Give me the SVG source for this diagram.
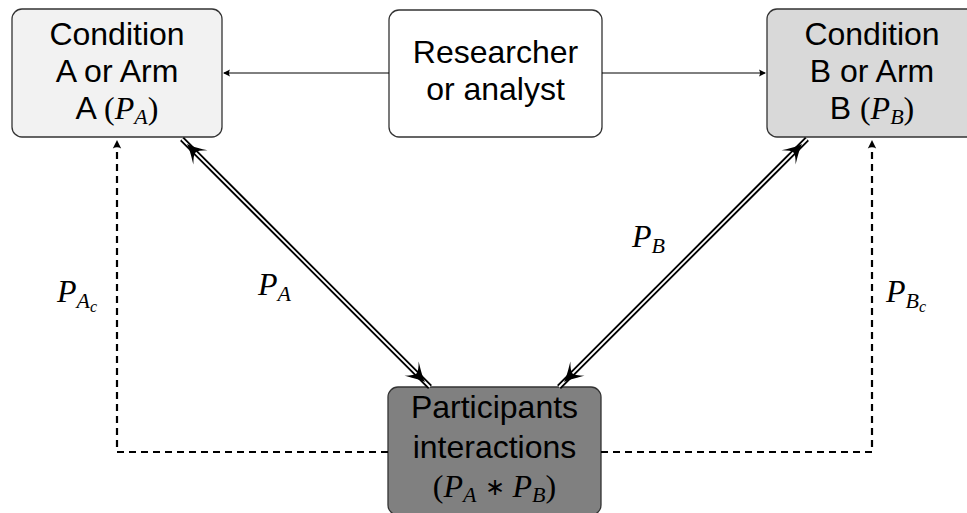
<svg xmlns="http://www.w3.org/2000/svg" width="967" height="513" viewBox="0 0 967 513">
<style>
.box{stroke:#333;stroke-width:1.3}
.t{font-family:"Liberation Sans",Arial,sans-serif;font-size:32px;fill:#000;text-anchor:middle}
.m{font-family:"Liberation Serif","Times New Roman",serif;font-style:italic}
.r{font-family:"Liberation Serif","Times New Roman",serif;font-style:normal}
.lab{font-family:"Liberation Serif","Times New Roman",serif;font-style:italic;font-size:32px;fill:#000}
.thin{stroke:#000;stroke-width:1;fill:none}
.dash{stroke:#000;stroke-width:2.2;fill:none;stroke-dasharray:7 5}
.dblo{stroke:#000;stroke-width:5.5;fill:none}
.dbli{stroke:#fff;stroke-width:1.8;fill:none}
</style>
<defs>
<path id="big" d="M0,0 C-6,-2 -14,-7 -19,-10 Q-12,-3 -12,0 Q-12,3 -19,10 C-14,7 -6,2 0,0Z" fill="#000"/>
<path id="sm" d="M0,0 L-7,-3.5 Q-5,0 -7,3.5Z" fill="#000"/>
</defs>

<g id="nodeA">
<rect class="box" x="12" y="9" width="210" height="128" rx="10" fill="#f2f2f2"/>
<text class="t" x="117" y="45">Condition</text>
<text class="t" x="117" y="82">A or Arm</text>
<text class="t" x="117" y="119">A <tspan class="r">(</tspan><tspan class="m">P</tspan><tspan class="m" font-size="22" dy="5">A</tspan><tspan class="r" dy="-5">)</tspan></text>
</g>

<g id="nodeR">
<rect class="box" x="389" y="10" width="213" height="127" rx="10" fill="#fff"/>
<text class="t" x="495.5" y="63">Researcher</text>
<text class="t" x="495.5" y="100">or analyst</text>
</g>

<g id="nodeB">
<rect class="box" x="767" y="9" width="210" height="128" rx="10" fill="#d9d9d9"/>
<text class="t" x="872" y="45">Condition</text>
<text class="t" x="872" y="82">B or Arm</text>
<text class="t" x="872" y="119">B <tspan class="r">(</tspan><tspan class="m">P</tspan><tspan class="m" font-size="22" dy="5">B</tspan><tspan class="r" dy="-5">)</tspan></text>
</g>

<g id="nodeP">
<rect class="box" x="388" y="387" width="213" height="128" rx="10" fill="#808080"/>
<text class="t" x="494.5" y="418">Participants</text>
<text class="t" x="494.5" y="458">interactions</text>
<text class="t" x="494.5" y="497"><tspan class="r">(</tspan><tspan class="m">P</tspan><tspan class="m" font-size="22" dy="5">A</tspan><tspan class="r" dy="-5"> </tspan><tspan class="r" font-size="24" dy="-2">∗</tspan><tspan class="r" dy="2"> </tspan><tspan class="m">P</tspan><tspan class="m" font-size="22" dy="5">B</tspan><tspan class="r" dy="-5">)</tspan></text>
</g>

<g id="connectors">
<line class="thin" x1="389" y1="73" x2="224" y2="73"/>
<use href="#sm" transform="translate(223,73) rotate(180)"/>
<line class="thin" x1="602" y1="73" x2="765" y2="73"/>
<use href="#sm" transform="translate(766,73)"/>

<line class="dblo" x1="182" y1="139" x2="430" y2="387"/>
<line class="dbli" x1="182" y1="139" x2="430" y2="387"/>
<use href="#big" transform="translate(187,144) rotate(-135)"/>
<use href="#big" transform="translate(425,382) rotate(45)"/>

<line class="dblo" x1="807" y1="139" x2="559" y2="387"/>
<line class="dbli" x1="807" y1="139" x2="559" y2="387"/>
<use href="#big" transform="translate(802,144) rotate(-45)"/>
<use href="#big" transform="translate(564,382) rotate(135)"/>

<path class="dash" d="M388,452 H117 V147"/>
<use href="#sm" transform="translate(117,140) rotate(-90) scale(1.2)"/>
<path class="dash" d="M601,452 H872 V147"/>
<use href="#sm" transform="translate(872,140) rotate(-90) scale(1.2)"/>

<text class="lab" x="258" y="295">P<tspan font-size="22" dy="6">A</tspan></text>
<text class="lab" x="632" y="247">P<tspan font-size="22" dy="6">B</tspan></text>
<text class="lab" x="57" y="302">P<tspan font-size="22" dy="6">A</tspan><tspan font-size="16" dy="4">c</tspan></text>
<text class="lab" x="886" y="302">P<tspan font-size="22" dy="6">B</tspan><tspan font-size="16" dy="4">c</tspan></text>
</g>
</svg>
